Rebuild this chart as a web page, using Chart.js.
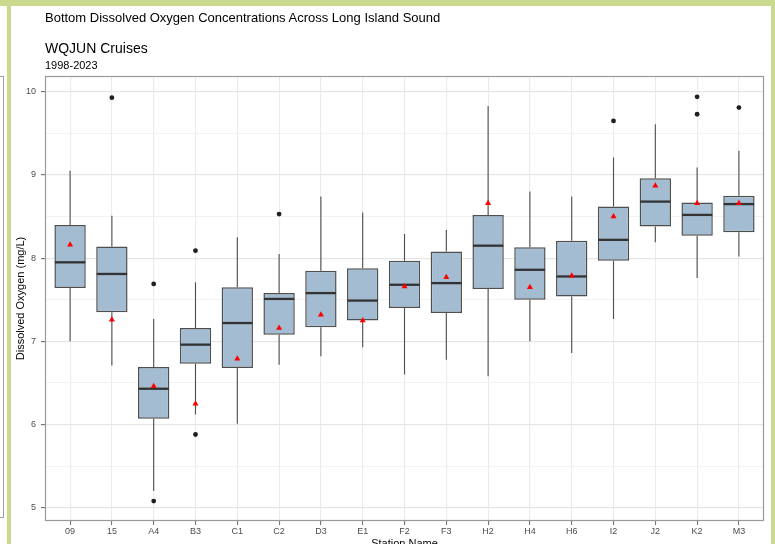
<!DOCTYPE html>
<html>
<head>
<meta charset="utf-8">
<title>Bottom Dissolved Oxygen - WQJUN Cruises</title>
<script src="https://cdn.jsdelivr.net/npm/chart.js@4.4.0/dist/chart.umd.min.js"></script>
<style>
    body { margin: 0; width: 775px; height: 544px; overflow: hidden; background: #fff; position: relative;
           font-family: "Liberation Sans", Arial, sans-serif; }
    #chart { position: absolute; left: 0; top: 0; }
    .band { position: absolute; background: #c9da8f; z-index: 2; }
    .edge { position: absolute; left: -10px; top: 76px; width: 12px; height: 440px; border: 1px solid #a0a0a0; }
    .ttl { position: absolute; left: 45px; white-space: nowrap; line-height: 1; color: #000; z-index: 3; }
</style>
</head>
<body>
<div class="edge"></div>
<div class="band" style="left:0;top:0;width:775px;height:6px;"></div>
<div class="band" style="left:7px;top:0;width:4px;height:544px;"></div>
<div class="band" style="left:771px;top:0;width:4px;height:544px;"></div>

<div class="ttl" style="top:10.5px;font-size:13px;">Bottom Dissolved Oxygen Concentrations Across Long Island Sound</div>
<div class="ttl" style="top:40.6px;font-size:14px;">WQJUN Cruises</div>
<div class="ttl" style="top:60.2px;font-size:11px;">1998-2023</div>

<canvas id="chart" width="775" height="551"></canvas>

<script>
// ===== DATA =====
const stations = ['09', '15', 'A4', 'B3', 'C1', 'C2', 'D3', 'E1', 'F2', 'F3', 'H2', 'H4', 'H6', 'I2', 'J2', 'K2', 'M3'];
const whiskerLow  = [7.00, 6.71, 5.20, 6.12, 6.01, 6.72, 6.82, 6.93, 6.60, 6.78, 6.58, 7.00, 6.86, 7.27, 8.19, 7.76, 8.02];
const q1          = [7.64, 7.35, 6.07, 6.73, 6.68, 7.08, 7.17, 7.25, 7.40, 7.34, 7.63, 7.50, 7.54, 7.97, 8.38, 8.27, 8.31];
const medians     = [7.95, 7.81, 6.43, 6.96, 7.22, 7.51, 7.58, 7.49, 7.68, 7.70, 8.15, 7.86, 7.78, 8.22, 8.68, 8.52, 8.65];
const q3          = [8.40, 8.14, 6.69, 7.16, 7.65, 7.58, 7.85, 7.88, 7.97, 8.08, 8.52, 8.13, 8.21, 8.62, 8.96, 8.67, 8.75];
const whiskerHigh = [9.05, 8.51, 7.27, 7.71, 8.25, 8.05, 8.74, 8.55, 8.29, 8.34, 9.83, 8.80, 8.74, 9.21, 9.61, 9.09, 9.29];
const means       = [8.16, 7.26, 6.46, 6.25, 6.79, 7.16, 7.32, 7.25, 7.66, 7.77, 8.66, 7.65, 7.79, 8.50, 8.87, 8.66, 8.66];

// outliers: station + value
const outlierStation = ['15', 'A4', 'A4', 'B3', 'B3', 'C2', 'I2', 'K2', 'K2', 'M3'];
const outlierValue   = [9.93, 7.69, 5.08, 8.09, 5.88, 8.53, 9.65, 9.94, 9.73, 9.81];

const yMajorTicks = [5, 6, 7, 8, 9, 10];

// ===== CHART =====
const FONT = '"Liberation Sans", Arial, sans-serif';
const isMajor = v => yMajorTicks.includes(v);

// whiskers go under the boxes, medians on top of them, panel border last
const boxPlotLines = {
    id: 'boxPlotLines',
    beforeDatasetDraw(chart, args) {
        if (args.meta.type !== 'bar') return;
        const { ctx, scales: { y } } = chart;
        ctx.save();
        ctx.strokeStyle = '#4d4d4d';
        ctx.lineWidth = 1.1;
        args.meta.data.forEach((bar, i) => {
            ctx.beginPath();
            ctx.moveTo(bar.x, y.getPixelForValue(whiskerHigh[i]));
            ctx.lineTo(bar.x, y.getPixelForValue(q3[i]));
            ctx.moveTo(bar.x, y.getPixelForValue(q1[i]));
            ctx.lineTo(bar.x, y.getPixelForValue(whiskerLow[i]));
            ctx.stroke();
        });
        ctx.restore();
    },
    afterDatasetDraw(chart, args) {
        if (args.meta.type !== 'bar') return;
        const { ctx, scales: { y } } = chart;
        ctx.save();
        ctx.strokeStyle = '#333333';
        ctx.lineWidth = 2.3;
        args.meta.data.forEach((bar, i) => {
            const py = y.getPixelForValue(medians[i]);
            ctx.beginPath();
            ctx.moveTo(bar.x - bar.width / 2 + 0.5, py);
            ctx.lineTo(bar.x + bar.width / 2 - 0.5, py);
            ctx.stroke();
        });
        ctx.restore();
    },
    afterDraw(chart) {
        const { ctx, chartArea: a } = chart;
        ctx.save();
        ctx.strokeStyle = '#9a9a9a';
        ctx.lineWidth = 1.2;
        ctx.strokeRect(Math.round(a.left) + 0.5, Math.round(a.top) + 0.5,
                       Math.round(a.right - a.left) - 1, Math.round(a.bottom - a.top) - 1);
        ctx.restore();
    }
};

new Chart(document.getElementById('chart').getContext('2d'), {
    type: 'bar',
    data: {
        datasets: [
            {
                type: 'scatter',
                label: 'Mean',
                data: stations.map((s, i) => ({ x: i, y: means[i] })),
                pointStyle: 'triangle',
                pointRadius: 3.5,
                backgroundColor: '#ff0000',
                borderWidth: 0
            },
            {
                type: 'scatter',
                label: 'Outliers',
                data: outlierStation.map((s, i) => ({ x: stations.indexOf(s), y: outlierValue[i] })),
                pointRadius: 2.4,
                backgroundColor: '#1f1f1f',
                borderWidth: 0
            },
            {
                type: 'bar',
                label: 'IQR',
                data: stations.map((s, i) => ({ x: i, y: [q1[i], q3[i]] })),
                backgroundColor: '#a3bcd2',
                borderColor: '#4f4f4f',
                borderWidth: 1.5,
                borderSkipped: false,
                categoryPercentage: 1,
                barPercentage: 0.75
            }
        ]
    },
    options: {
        responsive: false,
        animation: false,
        events: [],
        layout: { padding: { top: 76, right: 11, left: 0, bottom: 0 } },
        plugins: {
            legend: { display: false },
            tooltip: { enabled: false }
        },
        scales: {
            x: {
                type: 'linear',
                min: -0.6,
                max: 16.6,
                offset: false,
                afterBuildTicks: scale => { scale.ticks = stations.map((s, i) => ({ value: i })); },
                afterFit: scale => { scale.height = 30; },
                ticks: {
                    autoSkip: false,
                    maxRotation: 0,
                    padding: 1,
                    color: '#4d4d4d',
                    font: { family: FONT, size: 9 },
                    callback: v => stations[v]
                },
                grid: { offset: false, color: '#ebebeb', lineWidth: 1.1, tickLength: 4, tickColor: '#777' },
                border: { display: false },
                title: {
                    display: true,
                    text: 'Station Name',
                    color: '#000',
                    font: { family: FONT, size: 11 },
                    padding: 0
                }
            },
            y: {
                type: 'linear',
                min: 4.84,
                max: 10.19,
                afterFit: scale => { scale.width = 45; },
                ticks: {
                    stepSize: 0.5,
                    includeBounds: false,
                    padding: 5,
                    color: '#4d4d4d',
                    font: { family: FONT, size: 9 },
                    callback: v => (isMajor(v) ? v : '')
                },
                grid: {
                    color: c => (c.tick && isMajor(c.tick.value) ? '#e6e6e6' : '#f1f1f1'),
                    lineWidth: c => (c.tick && isMajor(c.tick.value) ? 1.2 : 0.9),
                    tickLength: 4,
                    tickColor: c => (c.tick && isMajor(c.tick.value) ? '#777' : 'rgba(0,0,0,0)')
                },
                border: { display: false },
                title: {
                    display: true,
                    text: 'Dissolved Oxygen (mg/L)',
                    color: '#000',
                    font: { family: FONT, size: 11 },
                    padding: { top: 14, bottom: 0 }
                }
            }
        }
    },
    plugins: [boxPlotLines]
});
</script>
</body>
</html>
